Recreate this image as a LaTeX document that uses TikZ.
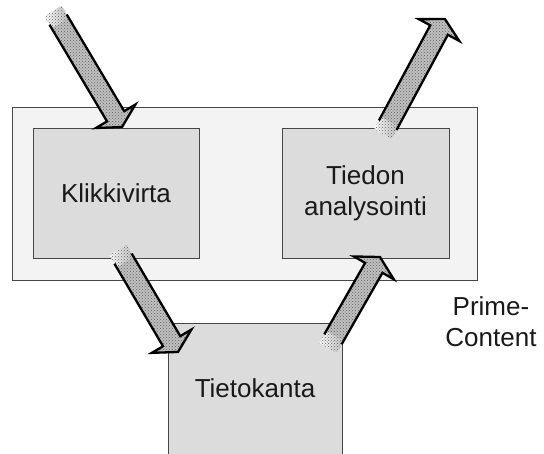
\documentclass[tikz,border=0pt]{standalone}
\usepackage{fontspec}
\setmainfont{Liberation Sans}
\usetikzlibrary{patterns}

\definecolor{panelbg}{RGB}{243,243,243}
\definecolor{boxbg}{RGB}{220,220,220}
\definecolor{edge}{RGB}{70,70,70}
\definecolor{arrowbase}{RGB}{192,192,192}
\definecolor{dotcol}{RGB}{95,95,95}
\definecolor{ink}{RGB}{25,25,25}

% Block arrow with a faded tail: #1 tail coordinate, #2 direction (deg), #3 length
\newcommand\flowarrow[3]{%
  \begin{scope}[shift={(#1)}, rotate=#2]
    \fill[arrowbase] (14,-10) -- (#3-12.5,-10) -- (#3-12.5,-23) -- (#3,0)
      -- (#3-12.5,23) -- (#3-12.5,10) -- (14,10) -- cycle;
    \shade[left color=white, right color=arrowbase]
      (0,-10) -- (14,-10) -- (14,10) -- (0,10) -- cycle;
    \fill[pattern=crosshatch dots, pattern color=dotcol]
      (0,-10) -- (#3-12.5,-10) -- (#3-12.5,-23) -- (#3,0)
      -- (#3-12.5,23) -- (#3-12.5,10) -- (0,10) -- cycle;
    \draw[arrowline] (10,-10) -- (#3-12.5,-10) -- (#3-12.5,-23) -- (#3,0)
      -- (#3-12.5,23) -- (#3-12.5,10) -- (10,10);
  \end{scope}}

\begin{document}
\begin{tikzpicture}[x=1pt, y=-1pt,
    font=\fontsize{26}{31}\selectfont,
    panel/.style={draw=edge, fill=panelbg, line width=1pt, inner sep=0pt},
    stagebox/.style={draw=edge, fill=boxbg, line width=1pt, inner sep=0pt,
      text=ink, align=center},
    arrowline/.style={draw=black, line width=2.3pt, line join=miter},
    caption/.style={text=ink, align=center, inner sep=0pt}]
  \useasboundingbox (0,0) rectangle (544,453);

  % Prime-Content container and its stages
  \node[panel, minimum width=465pt, minimum height=173pt] (panel) at (244.5,193.5) {};
  \node[stagebox, minimum width=166pt, minimum height=130pt] (klikki) at (116,193) {Klikkivirta};
  \node[stagebox, minimum width=167pt, minimum height=130pt] (analyysi) at (365.5,193) {Tiedon\\analysointi};
  \node[stagebox, minimum width=174pt, minimum height=133pt] (kanta) at (255,389.5) {\raisebox{3pt}{Tietokanta}};
  \node[caption] (prime) at (491,322) {Prime-\\Content};

  % Arrow end points
  \coordinate (in-tail) at (53,11);
  \coordinate (store-tail) at (118,250);
  \coordinate (load-tail) at (328,348);
  \coordinate (out-tail) at (383,134);

  \flowarrow{in-tail}{-59.25}{135}
  \flowarrow{store-tail}{-59.53}{118.3}
  \flowarrow{load-tail}{60.26}{104.8}
  \flowarrow{out-tail}{61.67}{130.6}
\end{tikzpicture}
\end{document}
